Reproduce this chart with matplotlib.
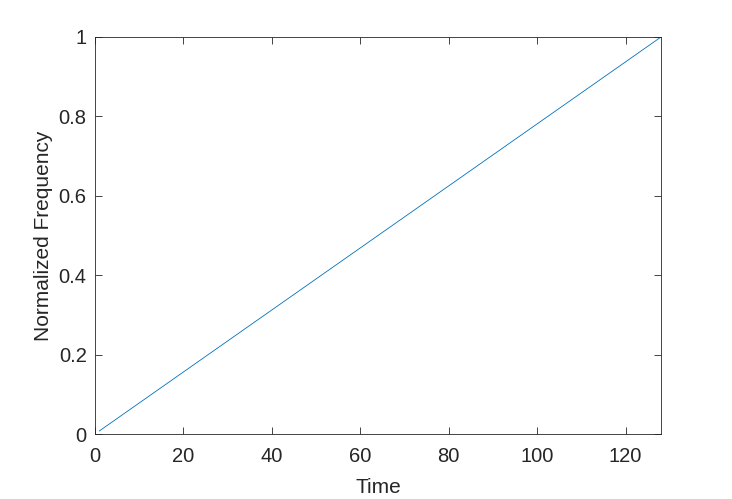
import numpy as np
import matplotlib
matplotlib.use('Agg')
from matplotlib import pyplot as plt

# chirp ridge: normalized frequency vs time
time = [1, 128]
freq = [1 / 128, 1.0]
xticks = [0, 20, 40, 60, 80, 100, 120]
yticks = [0, 0.2, 0.4, 0.6, 0.8, 1]

matplotlib.rcParams['font.family'] = 'Liberation Sans'
dark = '#262626'

fig = plt.figure(figsize=(7.32, 4.99), dpi=100)
ax = fig.add_axes([95 / 732, 65 / 499, 566 / 732, 397 / 499])
ax.plot(time, freq, color='#0072BD', lw=0.6)

ax.set_xlim(0, 128)
ax.set_ylim(0, 1)
ax.set_xticks(xticks)
ax.set_yticks(yticks)
ax.set_yticklabels(['0', '0.2', '0.4', '0.6', '0.8', '1'])
ax.tick_params(direction='in', top=True, right=True, length=5, width=0.6,
               labelsize=14.5, colors=dark)
ax.tick_params(axis='x', pad=9)
ax.tick_params(axis='y', pad=6)
for s in ax.spines.values():
    s.set_color(dark)
    s.set_linewidth(0.6)

ax.set_xlabel('Time', fontsize=15, color=dark, labelpad=9)
ax.set_ylabel('Normalized Frequency', fontsize=15, color=dark, labelpad=4)

plt.savefig('out.png', dpi=100)
